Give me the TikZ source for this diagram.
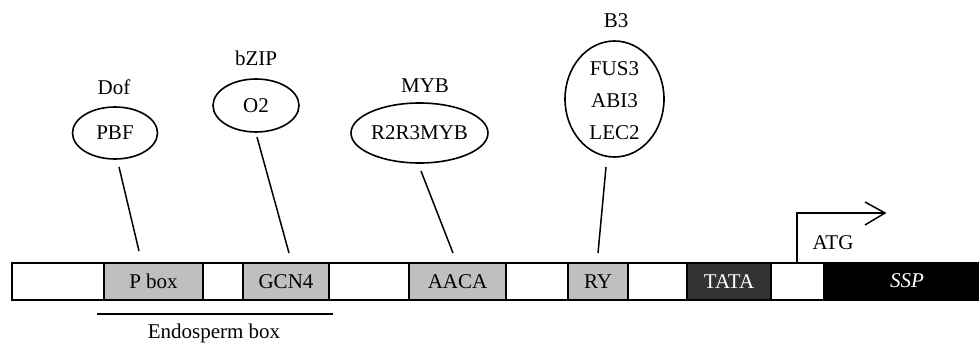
\documentclass[tikz,border=0pt]{standalone}
\usepackage{fontspec}
\setmainfont{Liberation Serif}
\usetikzlibrary{arrows.meta,shapes.geometric}
\begin{document}
\begin{tikzpicture}[x=1pt,y=-1pt,
  every node/.style={font=\fontsize{21}{25}\selectfont, inner sep=0pt},
  seg/.style={draw=black, line width=2pt, fill=white, minimum height=37pt, anchor=north west},
  motif/.style={seg, fill=black!25},
  tf/.style={draw=black, line width=1.6pt, ellipse, inner sep=0pt},
  link/.style={line width=1.5pt}]
\useasboundingbox (0,0) rectangle (979,345);
% promoter bar
\node[seg, minimum width=92pt] (s1) at (11,262) {};
\node[motif, minimum width=99pt] (pbox) at (103,262) {P box};
\node[seg, minimum width=40pt] (s2) at (202,262) {};
\node[motif, minimum width=86pt] (gcn) at (242,262) {GCN4};
\node[seg, minimum width=80pt] (s3) at (328,262) {};
\node[motif, minimum width=97pt] (aaca) at (408,262) {AACA};
\node[seg, minimum width=62pt] (s4) at (505,262) {};
\node[motif, minimum width=60pt] (ry) at (567,262) {RY};
\node[seg, minimum width=59pt] (s5) at (627,262) {};
\node[seg, fill=black!80, minimum width=84pt, text=white] (tata) at (686,262) {TATA};
\node[seg, minimum width=53pt] (s6) at (770,262) {};
\node[seg, fill=black, minimum width=156pt] (ssp) at (823,262) {};
\node[text=white, font=\fontsize{21}{25}\selectfont\itshape] (ssptxt) at (907,281) {SSP};
% transcription factors
\node[tf, minimum width=85pt, minimum height=52pt] (pbf) at (115,133) {PBF};
\node (dof) at (114,87) {Dof};
\node[tf, minimum width=86pt, minimum height=53pt] (o2) at (256,105.5) {O2};
\node (bzip) at (256,58) {bZIP};
\node[tf, minimum width=127pt, minimum height=60pt] (myb) at (419.5,133) {R2R3MYB};
\node (mybl) at (425,86) {MYB};
\node[tf, minimum width=99pt, minimum height=116pt] (b3) at (614.5,99) {};
\node (fus) at (614.5,69) {FUS3};
\node (abi) at (614.5,101) {ABI3};
\node (lec) at (614.5,133) {LEC2};
\node (b3l) at (616,21) {B3};
% connectors
\coordinate (pbfA) at (119,167); \coordinate (pbfB) at (139,251);
\coordinate (o2A) at (257,137); \coordinate (o2B) at (289,253);
\coordinate (mybA) at (421,171); \coordinate (mybB) at (453,253);
\coordinate (b3A) at (606,167); \coordinate (b3B) at (598,253);
\draw[link] (pbfA) -- (pbfB);
\draw[link] (o2A) -- (o2B);
\draw[link] (mybA) -- (mybB);
\draw[link] (b3A) -- (b3B);
% endosperm box
\coordinate (endA) at (97,314); \coordinate (endB) at (333,314);
\draw[line width=1.5pt] (endA) -- (endB);
\node (endo) at (214,333) {Endosperm box};
% transcription start
\coordinate (tss) at (797,262);
\coordinate (tssTop) at (797,213);
\coordinate (tssEnd) at (885,213);
\coordinate (headA) at (865,202);
\coordinate (headB) at (865,225);
\draw[link] (tss) -- (tssTop) -- (tssEnd);
\draw[link] (headA) -- (tssEnd) -- (headB);
\node (atg) at (833,243) {ATG};
\end{tikzpicture}
\end{document}
